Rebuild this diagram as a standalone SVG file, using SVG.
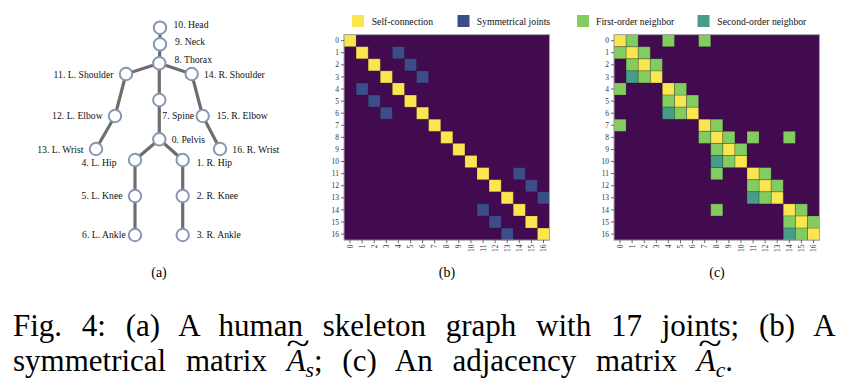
<svg xmlns="http://www.w3.org/2000/svg" width="862" height="392" viewBox="0 0 862 392">
<defs>
<style>
.lbl{font-family:"Liberation Serif","Times New Roman",serif;font-size:9.7px;fill:#111}
.tk{font-family:"Liberation Serif","Times New Roman",serif;font-size:7.5px;fill:#333}
.edge{stroke:#6e6e6e;stroke-width:3.2;stroke-linecap:round;fill:none}
.jt{fill:#fff;stroke:#8797b4;stroke-width:2}
.bg{fill:#420a4f}
.y{fill:#f9e650}
.b{fill:#3e4d8a}
.g{fill:#82cc60}
.t{fill:#489d88}
.cell rect{stroke:#000;stroke-opacity:0.25;stroke-width:0.7;vector-effect:non-scaling-stroke}
.frame{fill:none;stroke:#a8a8a8;stroke-width:1}
.tick{stroke:#444;stroke-width:0.8;fill:none}
.cap{font-family:"Liberation Serif","Times New Roman",serif;font-size:31px;fill:#000}
.sub{font-family:"Liberation Serif","Times New Roman",serif;font-size:14px;fill:#000}
</style>
</defs>
<rect width="862" height="392" fill="#fff"/>

<!-- (a) skeleton -->
<g id="connectors">
<line class="edge" x1="160" y1="27.7" x2="160" y2="44.3"/>
<line class="edge" x1="160" y1="44.3" x2="159.3" y2="63.3"/>
<line class="edge" x1="159.3" y1="63.3" x2="126" y2="74"/>
<line class="edge" x1="159.3" y1="63.3" x2="191.7" y2="74"/>
<line class="edge" x1="159.3" y1="63.3" x2="159.3" y2="100"/>
<line class="edge" x1="159.3" y1="100" x2="159.3" y2="139.3"/>
<line class="edge" x1="126" y1="74" x2="115" y2="116"/>
<line class="edge" x1="115" y1="116" x2="96" y2="149"/>
<line class="edge" x1="191.7" y1="74" x2="202.7" y2="116"/>
<line class="edge" x1="202.7" y1="116" x2="220" y2="149"/>
<line class="edge" x1="159.3" y1="139.3" x2="135" y2="160"/>
<line class="edge" x1="159.3" y1="139.3" x2="182.7" y2="160"/>
<line class="edge" x1="135" y1="160" x2="135" y2="196"/>
<line class="edge" x1="135" y1="196" x2="135" y2="235"/>
<line class="edge" x1="182.7" y1="160" x2="182.7" y2="196"/>
<line class="edge" x1="182.7" y1="196" x2="182.7" y2="235"/>
</g>
<g id="j10"><circle class="jt" cx="160" cy="27.7" r="6.2"/><text class="lbl" x="173.5" y="27.5">10. Head</text></g>
<g id="j9"><circle class="jt" cx="160" cy="44.3" r="6.2"/><text class="lbl" x="175" y="45">9. Neck</text></g>
<g id="j8"><circle class="jt" cx="159.3" cy="63.3" r="6.2"/><text class="lbl" x="174.5" y="62.7">8. Thorax</text></g>
<g id="j11"><circle class="jt" cx="126" cy="74" r="6.2"/><text class="lbl" x="113.5" y="78" text-anchor="end">11. L. Shoulder</text></g>
<g id="j14"><circle class="jt" cx="191.7" cy="74" r="6.2"/><text class="lbl" x="204" y="78">14. R. Shoulder</text></g>
<g id="j7"><circle class="jt" cx="159.3" cy="100" r="6.2"/><text class="lbl" x="162.3" y="119.3">7. Spine</text></g>
<g id="j12"><circle class="jt" cx="115" cy="116" r="6.2"/><text class="lbl" x="102.7" y="119.3" text-anchor="end">12. L. Elbow</text></g>
<g id="j15"><circle class="jt" cx="202.7" cy="116" r="6.2"/><text class="lbl" x="216.7" y="119.3">15. R. Elbow</text></g>
<g id="j0"><circle class="jt" cx="159.3" cy="139.3" r="6.2"/><text class="lbl" x="171.7" y="142.7">0. Pelvis</text></g>
<g id="j13"><circle class="jt" cx="96" cy="149" r="6.2"/><text class="lbl" x="83.5" y="152.7" text-anchor="end">13. L. Wrist</text></g>
<g id="j16"><circle class="jt" cx="220" cy="149" r="6.2"/><text class="lbl" x="232.3" y="152.7">16. R. Wrist</text></g>
<g id="j4"><circle class="jt" cx="135" cy="160" r="6.2"/><text class="lbl" x="116.5" y="165.5" text-anchor="end">4. L. Hip</text></g>
<g id="j1"><circle class="jt" cx="182.7" cy="160" r="6.2"/><text class="lbl" x="196.7" y="165.5">1. R. Hip</text></g>
<g id="j5"><circle class="jt" cx="135" cy="196" r="6.2"/><text class="lbl" x="122.5" y="199.3" text-anchor="end">5. L. Knee</text></g>
<g id="j2"><circle class="jt" cx="182.7" cy="196" r="6.2"/><text class="lbl" x="196.7" y="199.3">2. R. Knee</text></g>
<g id="j6"><circle class="jt" cx="135" cy="235" r="6.2"/><text class="lbl" x="125.7" y="238.3" text-anchor="end">6. L. Ankle</text></g>
<g id="j3"><circle class="jt" cx="182.7" cy="235" r="6.2"/><text class="lbl" x="196.7" y="238.3">3. R. Ankle</text></g>

<!-- legend -->
<g id="legend">
<rect class="y" x="352" y="15" width="12" height="12"/><text class="lbl" x="371.7" y="25.3">Self-connection</text>
<rect class="b" x="457.5" y="15" width="12" height="12"/><text class="lbl" x="476.7" y="25.3">Symmetrical joints</text>
<rect class="g" x="577" y="15" width="12" height="12"/><text class="lbl" x="596" y="25.3">First-order neighbor</text>
<rect class="t" x="697.5" y="15" width="12" height="12"/><text class="lbl" x="717.3" y="25.3">Second-order neighbor</text>
</g>

<!-- (b) matrix -->
<g id="matrix-b">
<g class="cell" transform="translate(344,34.6) scale(12.09)">
<rect class="bg" x="0" y="0" width="17" height="17" style="stroke:none"/>
<rect class="y" x="0" y="0" width="1" height="1"/><rect class="y" x="1" y="1" width="1" height="1"/><rect class="y" x="2" y="2" width="1" height="1"/><rect class="y" x="3" y="3" width="1" height="1"/><rect class="y" x="4" y="4" width="1" height="1"/><rect class="y" x="5" y="5" width="1" height="1"/><rect class="y" x="6" y="6" width="1" height="1"/><rect class="y" x="7" y="7" width="1" height="1"/><rect class="y" x="8" y="8" width="1" height="1"/><rect class="y" x="9" y="9" width="1" height="1"/><rect class="y" x="10" y="10" width="1" height="1"/><rect class="y" x="11" y="11" width="1" height="1"/><rect class="y" x="12" y="12" width="1" height="1"/><rect class="y" x="13" y="13" width="1" height="1"/><rect class="y" x="14" y="14" width="1" height="1"/><rect class="y" x="15" y="15" width="1" height="1"/><rect class="y" x="16" y="16" width="1" height="1"/>
<rect class="b" x="4" y="1" width="1" height="1"/><rect class="b" x="5" y="2" width="1" height="1"/><rect class="b" x="6" y="3" width="1" height="1"/><rect class="b" x="1" y="4" width="1" height="1"/><rect class="b" x="2" y="5" width="1" height="1"/><rect class="b" x="3" y="6" width="1" height="1"/>
<rect class="b" x="14" y="11" width="1" height="1"/><rect class="b" x="15" y="12" width="1" height="1"/><rect class="b" x="16" y="13" width="1" height="1"/><rect class="b" x="11" y="14" width="1" height="1"/><rect class="b" x="12" y="15" width="1" height="1"/><rect class="b" x="13" y="16" width="1" height="1"/>
</g>
<rect class="frame" x="344" y="34.6" width="205.53" height="205.53"/>
<g class="tick" transform="translate(344,34.6) scale(12.09)">
<path vector-effect="non-scaling-stroke" d="M-0.25 0.5H0M-0.25 1.5H0M-0.25 2.5H0M-0.25 3.5H0M-0.25 4.5H0M-0.25 5.5H0M-0.25 6.5H0M-0.25 7.5H0M-0.25 8.5H0M-0.25 9.5H0M-0.25 10.5H0M-0.25 11.5H0M-0.25 12.5H0M-0.25 13.5H0M-0.25 14.5H0M-0.25 15.5H0M-0.25 16.5H0M0.5 17V17.25M1.5 17V17.25M2.5 17V17.25M3.5 17V17.25M4.5 17V17.25M5.5 17V17.25M6.5 17V17.25M7.5 17V17.25M8.5 17V17.25M9.5 17V17.25M10.5 17V17.25M11.5 17V17.25M12.5 17V17.25M13.5 17V17.25M14.5 17V17.25M15.5 17V17.25M16.5 17V17.25"/>
</g>
<g class="tk" text-anchor="end">
<text x="339" y="43.25">0</text><text x="339" y="55.34">1</text><text x="339" y="67.43">2</text><text x="339" y="79.52">3</text><text x="339" y="91.61">4</text><text x="339" y="103.7">5</text><text x="339" y="115.79">6</text><text x="339" y="127.88">7</text><text x="339" y="139.97">8</text><text x="339" y="152.06">9</text><text x="339" y="164.15">10</text><text x="339" y="176.24">11</text><text x="339" y="188.33">12</text><text x="339" y="200.42">13</text><text x="339" y="212.51">14</text><text x="339" y="224.6">15</text><text x="339" y="236.69">16</text>
<text transform="translate(350.05,244.5) rotate(-90)" dy="0.35em">0</text><text transform="translate(362.14,244.5) rotate(-90)" dy="0.35em">1</text><text transform="translate(374.23,244.5) rotate(-90)" dy="0.35em">2</text><text transform="translate(386.32,244.5) rotate(-90)" dy="0.35em">3</text><text transform="translate(398.41,244.5) rotate(-90)" dy="0.35em">4</text><text transform="translate(410.5,244.5) rotate(-90)" dy="0.35em">5</text><text transform="translate(422.59,244.5) rotate(-90)" dy="0.35em">6</text><text transform="translate(434.68,244.5) rotate(-90)" dy="0.35em">7</text><text transform="translate(446.77,244.5) rotate(-90)" dy="0.35em">8</text><text transform="translate(458.86,244.5) rotate(-90)" dy="0.35em">9</text><text transform="translate(470.95,244.5) rotate(-90)" dy="0.35em">10</text><text transform="translate(483.04,244.5) rotate(-90)" dy="0.35em">11</text><text transform="translate(495.13,244.5) rotate(-90)" dy="0.35em">12</text><text transform="translate(507.22,244.5) rotate(-90)" dy="0.35em">13</text><text transform="translate(519.31,244.5) rotate(-90)" dy="0.35em">14</text><text transform="translate(531.4,244.5) rotate(-90)" dy="0.35em">15</text><text transform="translate(543.49,244.5) rotate(-90)" dy="0.35em">16</text>
</g>
</g>

<!-- (c) matrix -->
<g id="matrix-c">
<g class="cell" transform="translate(614,34.6) scale(12.09)">
<rect class="bg" x="0" y="0" width="17" height="17" style="stroke:none"/>
<rect class="y" x="0" y="0" width="1" height="1"/><rect class="y" x="1" y="1" width="1" height="1"/><rect class="y" x="2" y="2" width="1" height="1"/><rect class="y" x="3" y="3" width="1" height="1"/><rect class="y" x="4" y="4" width="1" height="1"/><rect class="y" x="5" y="5" width="1" height="1"/><rect class="y" x="6" y="6" width="1" height="1"/><rect class="y" x="7" y="7" width="1" height="1"/><rect class="y" x="8" y="8" width="1" height="1"/><rect class="y" x="9" y="9" width="1" height="1"/><rect class="y" x="10" y="10" width="1" height="1"/><rect class="y" x="11" y="11" width="1" height="1"/><rect class="y" x="12" y="12" width="1" height="1"/><rect class="y" x="13" y="13" width="1" height="1"/><rect class="y" x="14" y="14" width="1" height="1"/><rect class="y" x="15" y="15" width="1" height="1"/><rect class="y" x="16" y="16" width="1" height="1"/>
<rect class="g" x="1" y="0" width="1" height="1"/><rect class="g" x="4" y="0" width="1" height="1"/><rect class="g" x="7" y="0" width="1" height="1"/>
<rect class="g" x="0" y="1" width="1" height="1"/><rect class="g" x="2" y="1" width="1" height="1"/>
<rect class="g" x="1" y="2" width="1" height="1"/><rect class="g" x="3" y="2" width="1" height="1"/>
<rect class="t" x="1" y="3" width="1" height="1"/><rect class="g" x="2" y="3" width="1" height="1"/>
<rect class="g" x="0" y="4" width="1" height="1"/><rect class="g" x="5" y="4" width="1" height="1"/>
<rect class="g" x="4" y="5" width="1" height="1"/><rect class="g" x="6" y="5" width="1" height="1"/>
<rect class="t" x="4" y="6" width="1" height="1"/><rect class="g" x="5" y="6" width="1" height="1"/>
<rect class="g" x="0" y="7" width="1" height="1"/><rect class="g" x="8" y="7" width="1" height="1"/>
<rect class="g" x="7" y="8" width="1" height="1"/><rect class="g" x="9" y="8" width="1" height="1"/><rect class="g" x="11" y="8" width="1" height="1"/><rect class="g" x="14" y="8" width="1" height="1"/>
<rect class="g" x="8" y="9" width="1" height="1"/><rect class="g" x="10" y="9" width="1" height="1"/>
<rect class="t" x="8" y="10" width="1" height="1"/><rect class="g" x="9" y="10" width="1" height="1"/>
<rect class="g" x="8" y="11" width="1" height="1"/><rect class="g" x="12" y="11" width="1" height="1"/>
<rect class="g" x="11" y="12" width="1" height="1"/><rect class="g" x="13" y="12" width="1" height="1"/>
<rect class="t" x="11" y="13" width="1" height="1"/><rect class="g" x="12" y="13" width="1" height="1"/>
<rect class="g" x="8" y="14" width="1" height="1"/><rect class="g" x="15" y="14" width="1" height="1"/>
<rect class="g" x="14" y="15" width="1" height="1"/><rect class="g" x="16" y="15" width="1" height="1"/>
<rect class="t" x="14" y="16" width="1" height="1"/><rect class="g" x="15" y="16" width="1" height="1"/>
</g>
<rect class="frame" x="614" y="34.6" width="205.53" height="205.53"/>
<g class="tick" transform="translate(614,34.6) scale(12.09)">
<path vector-effect="non-scaling-stroke" d="M-0.25 0.5H0M-0.25 1.5H0M-0.25 2.5H0M-0.25 3.5H0M-0.25 4.5H0M-0.25 5.5H0M-0.25 6.5H0M-0.25 7.5H0M-0.25 8.5H0M-0.25 9.5H0M-0.25 10.5H0M-0.25 11.5H0M-0.25 12.5H0M-0.25 13.5H0M-0.25 14.5H0M-0.25 15.5H0M-0.25 16.5H0M0.5 17V17.25M1.5 17V17.25M2.5 17V17.25M3.5 17V17.25M4.5 17V17.25M5.5 17V17.25M6.5 17V17.25M7.5 17V17.25M8.5 17V17.25M9.5 17V17.25M10.5 17V17.25M11.5 17V17.25M12.5 17V17.25M13.5 17V17.25M14.5 17V17.25M15.5 17V17.25M16.5 17V17.25"/>
</g>
<g class="tk" text-anchor="end">
<text x="609" y="43.25">0</text><text x="609" y="55.34">1</text><text x="609" y="67.43">2</text><text x="609" y="79.52">3</text><text x="609" y="91.61">4</text><text x="609" y="103.7">5</text><text x="609" y="115.79">6</text><text x="609" y="127.88">7</text><text x="609" y="139.97">8</text><text x="609" y="152.06">9</text><text x="609" y="164.15">10</text><text x="609" y="176.24">11</text><text x="609" y="188.33">12</text><text x="609" y="200.42">13</text><text x="609" y="212.51">14</text><text x="609" y="224.6">15</text><text x="609" y="236.69">16</text>
<text transform="translate(620.05,244.5) rotate(-90)" dy="0.35em">0</text><text transform="translate(632.14,244.5) rotate(-90)" dy="0.35em">1</text><text transform="translate(644.23,244.5) rotate(-90)" dy="0.35em">2</text><text transform="translate(656.32,244.5) rotate(-90)" dy="0.35em">3</text><text transform="translate(668.41,244.5) rotate(-90)" dy="0.35em">4</text><text transform="translate(680.5,244.5) rotate(-90)" dy="0.35em">5</text><text transform="translate(692.59,244.5) rotate(-90)" dy="0.35em">6</text><text transform="translate(704.68,244.5) rotate(-90)" dy="0.35em">7</text><text transform="translate(716.77,244.5) rotate(-90)" dy="0.35em">8</text><text transform="translate(728.86,244.5) rotate(-90)" dy="0.35em">9</text><text transform="translate(740.95,244.5) rotate(-90)" dy="0.35em">10</text><text transform="translate(753.04,244.5) rotate(-90)" dy="0.35em">11</text><text transform="translate(765.13,244.5) rotate(-90)" dy="0.35em">12</text><text transform="translate(777.22,244.5) rotate(-90)" dy="0.35em">13</text><text transform="translate(789.31,244.5) rotate(-90)" dy="0.35em">14</text><text transform="translate(801.4,244.5) rotate(-90)" dy="0.35em">15</text><text transform="translate(813.49,244.5) rotate(-90)" dy="0.35em">16</text>
</g>
</g>

<!-- subcaptions -->
<g id="subcaptions" class="sub" text-anchor="middle">
<text x="159" y="277">(a)</text>
<text x="447" y="277">(b)</text>
<text x="717" y="277">(c)</text>
</g>

<!-- caption -->
<g id="caption">
<text class="cap" x="13" y="336" word-spacing="12">Fig. 4: (a) A human skeleton graph with 17 joints; (b) A</text>
<text class="cap" x="13" y="371" word-spacing="12">symmetrical matrix <tspan font-style="italic">A</tspan><tspan font-style="italic" font-size="21.5" dy="6">s</tspan><tspan dy="-6">; (c) An adjacency matrix </tspan><tspan font-style="italic">A</tspan><tspan font-style="italic" font-size="21.5" dy="6">c</tspan><tspan dy="-6">.</tspan></text>
<text class="cap" transform="translate(298,353.8) scale(1.4,1)" text-anchor="middle">~</text>
<text class="cap" transform="translate(710,353.8) scale(1.4,1)" text-anchor="middle">~</text>
</g>
</svg>
